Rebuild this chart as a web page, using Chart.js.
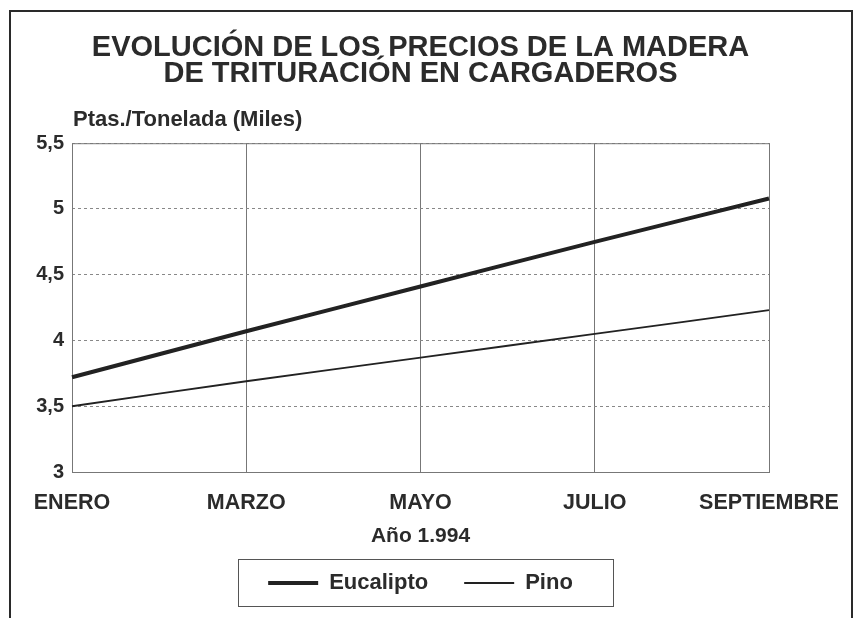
<!DOCTYPE html>
<html lang="es">
<head>
  <meta charset="UTF-8" />
  <title>Evolución de los precios de la madera</title>
  <script src="https://cdn.jsdelivr.net/npm/chart.js"></script>
  <style>
    html, body {
      margin: 0;
      padding: 0;
      width: 859px;
      height: 618px;
      overflow: hidden;
      background: #ffffff;
    }

    .chart-box {
      position: absolute;
      left: 0;
      top: 0;
      width: 859px;
      height: 618px;
    }

    .frame {
      position: absolute;
      left: 9px;
      top: 10px;
      width: 840px;
      height: 700px;
      border: 2px solid #2a2a2a;
      pointer-events: none;
    }
  </style>
</head>
<body>
  <div class="chart-box"><canvas id="preciosChart"></canvas></div>
  <div class="frame"></div>

  <script>
    // Datos (miles de ptas. por tonelada)
    const meses = ['ENERO', 'MARZO', 'MAYO', 'JULIO', 'SEPTIEMBRE'];
    const eucalipto = [3.72, 4.07, 4.41, 4.75, 5.08];
    const pino = [3.50, 3.69, 3.87, 4.05, 4.23];
    const yTicks = [3, 3.5, 4, 4.5, 5, 5.5];

    const tituloLineas = ['EVOLUCIÓN DE LOS PRECIOS DE LA MADERA', 'DE TRITURACIÓN EN CARGADEROS'];
    const unidad = 'Ptas./Tonelada (Miles)';
    const tituloX = 'Año 1.994';

    const ink = '#2b2b2b';
    const fontFamily = "'Liberation Sans', Arial, Helvetica, sans-serif";

    // recuadro del area de trazado, etiqueta de unidades y caja de la leyenda
    const extras = {
      id: 'extras',
      beforeDatasetsDraw(chart) {
        const { ctx, chartArea: a } = chart;
        ctx.save();
        ctx.strokeStyle = '#777';
        ctx.lineWidth = 1;
        ctx.setLineDash([]);
        ctx.strokeRect(a.left + 0.5, a.top + 0.5, a.right - a.left, a.bottom - a.top);
        ctx.restore();
      },
      afterDraw(chart) {
        const { ctx, chartArea: a } = chart;
        ctx.save();
        ctx.fillStyle = ink;
        ctx.font = 'bold 22px ' + fontFamily;
        ctx.textAlign = 'left';
        ctx.textBaseline = 'alphabetic';
        ctx.fillText(unidad, a.left + 1, a.top - 17);

        const boxes = chart.legend.legendHitBoxes;
        if (boxes && boxes.length) {
          const left = Math.min(...boxes.map(b => b.left));
          const right = Math.max(...boxes.map(b => b.left + b.width));
          const top = Math.min(...boxes.map(b => b.top));
          const bottom = Math.max(...boxes.map(b => b.top + b.height));
          ctx.strokeStyle = '#555';
          ctx.lineWidth = 1;
          ctx.strokeRect(Math.round(left - 30) + 0.5, Math.round(top - 13) + 0.5,
            Math.round(right - left + 70), Math.round(bottom - top + 25));
        }
        ctx.restore();
      }
    };

    new Chart(document.getElementById('preciosChart'), {
      type: 'line',
      data: {
        labels: meses,
        datasets: [
          {
            label: 'Eucalipto',
            data: eucalipto,
            borderColor: '#222',
            backgroundColor: '#222',
            borderWidth: 4,
            pointRadius: 0,
            tension: 0.15
          },
          {
            label: 'Pino',
            data: pino,
            borderColor: '#222',
            backgroundColor: '#222',
            borderWidth: 1.8,
            pointRadius: 0,
            tension: 0.15
          }
        ]
      },
      options: {
        responsive: true,
        maintainAspectRatio: false,
        animation: false,
        layout: { padding: { left: 10, right: 90, top: 11, bottom: 14 } },
        plugins: {
          title: {
            display: true,
            fullSize: false,
            text: tituloLineas,
            color: ink,
            font: { family: fontFamily, size: 29, weight: 'bold', lineHeight: 0.9 },
            padding: { top: 24, bottom: 56 }
          },
          legend: {
            position: 'bottom',
            fullSize: false,
            labels: {
              color: ink,
              font: { family: fontFamily, size: 22, weight: 'bold' },
              usePointStyle: true,
              pointStyle: 'line',
              pointStyleWidth: 50,
              padding: 36
            }
          },
          tooltip: { enabled: false }
        },
        scales: {
          x: {
            offset: false,
            grid: { color: '#777', lineWidth: 1, drawTicks: false },
            border: { display: false },
            ticks: {
              color: ink,
              font: { family: fontFamily, size: 21.5, weight: 'bold' },
              padding: 18,
              maxRotation: 0
            },
            title: {
              display: true,
              text: tituloX,
              color: ink,
              font: { family: fontFamily, size: 21, weight: 'bold' },
              padding: { top: -10, bottom: -13 }
            }
          },
          y: {
            min: yTicks[0],
            max: yTicks[yTicks.length - 1],
            afterFit(scale) { scale.width = 62; },
            afterBuildTicks(scale) { scale.ticks = yTicks.map(v => ({ value: v })); },
            grid: { color: '#888', lineWidth: 1, drawTicks: false },
            border: { display: false, dash: [3, 3] },
            ticks: {
              color: ink,
              font: { family: fontFamily, size: 20, weight: 'bold' },
              padding: 8,
              callback: v => String(v).replace('.', ',')
            }
          }
        }
      },
      plugins: [extras]
    });
  </script>
</body>
</html>
